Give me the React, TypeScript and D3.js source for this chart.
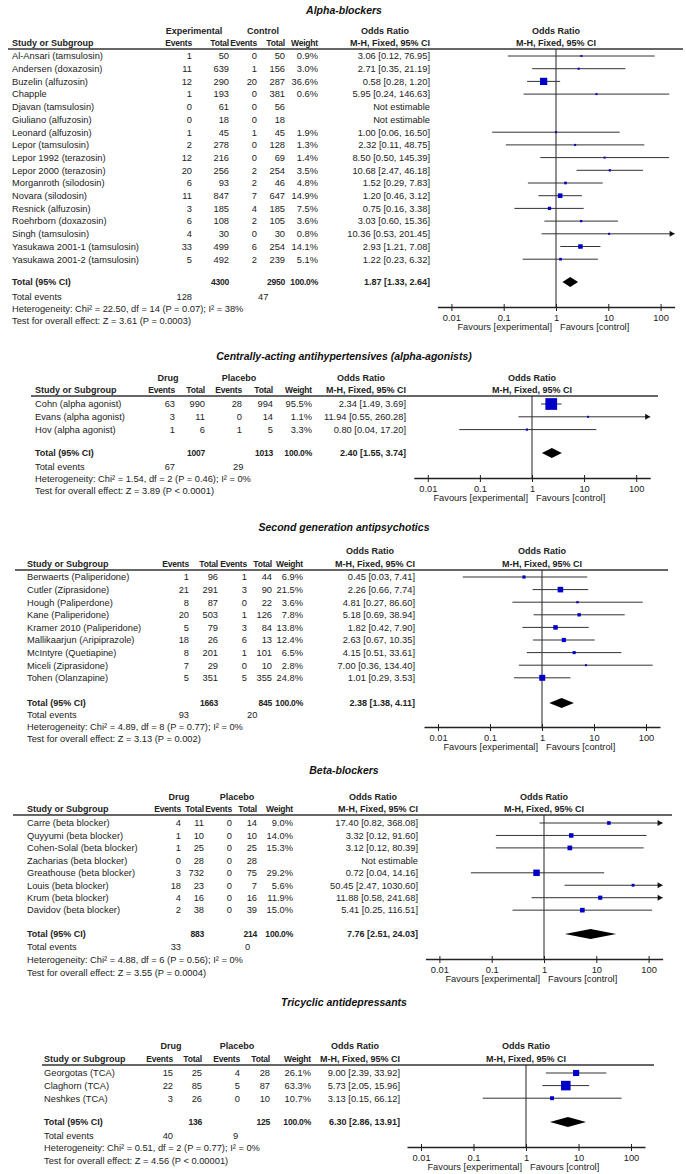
import React, { useEffect, useRef } from 'react';
import { select, scaleLog, axisBottom } from 'd3';

// study, exp events, exp total, ctl events, ctl total, weight %, OR, lower, upper
type Row = [string, number, number, number, number, number | null, number | null, number | null, number | null];

const FONT = '"Liberation Sans", Arial, sans-serif';
const INK = '#222';
const BLUE = '#0000c8';
const FS = 9.3;

const tickValues = [0.01, 0.1, 1, 10, 100];
const tickLabels = ['0.01', '0.1', '1', '10', '100'];

const alphaRows: Row[] = [
  ['Al-Ansari (tamsulosin)', 1, 50, 0, 50, 0.9, 3.06, 0.12, 76.95],
  ['Andersen (doxazosin)', 11, 639, 1, 156, 3.0, 2.71, 0.35, 21.19],
  ['Buzelin (alfuzosin)', 12, 290, 20, 287, 36.6, 0.58, 0.28, 1.2],
  ['Chapple', 1, 193, 0, 381, 0.6, 5.95, 0.24, 146.63],
  ['Djavan (tamsulosin)', 0, 61, 0, 56, null, null, null, null],
  ['Giuliano (alfuzosin)', 0, 18, 0, 18, null, null, null, null],
  ['Leonard (alfuzosin)', 1, 45, 1, 45, 1.9, 1.0, 0.06, 16.5],
  ['Lepor (tamsulosin)', 2, 278, 0, 128, 1.3, 2.32, 0.11, 48.75],
  ['Lepor 1992 (terazosin)', 12, 216, 0, 69, 1.4, 8.5, 0.5, 145.39],
  ['Lepor 2000 (terazosin)', 20, 256, 2, 254, 3.5, 10.68, 2.47, 46.18],
  ['Morganroth (silodosin)', 6, 93, 2, 46, 4.8, 1.52, 0.29, 7.83],
  ['Novara (silodosin)', 11, 847, 7, 647, 14.9, 1.2, 0.46, 3.12],
  ['Resnick (alfuzosin)', 3, 185, 4, 185, 7.5, 0.75, 0.16, 3.38],
  ['Roehrborn (doxazosin)', 6, 108, 2, 105, 3.6, 3.03, 0.6, 15.36],
  ['Singh (tamsulosin)', 4, 30, 0, 30, 0.8, 10.36, 0.53, 201.45],
  ['Yasukawa 2001-1 (tamsulosin)', 33, 499, 6, 254, 14.1, 2.93, 1.21, 7.08],
  ['Yasukawa 2001-2 (tamsulosin)', 5, 492, 2, 239, 5.1, 1.22, 0.23, 6.32],
];
const alphaTotal = [4300, 2950, 1.87, 1.33, 2.64];
const alphaEvents = [128, 47];
const alphaStats = [
  'Heterogeneity: Chi\u00b2 = 22.50, df = 14 (P = 0.07); I\u00b2 = 38%',
  'Test for overall effect: Z = 3.61 (P = 0.0003)',
];

const agonistRows: Row[] = [
  ['Cohn (alpha agonist)', 63, 990, 28, 994, 95.5, 2.34, 1.49, 3.69],
  ['Evans (alpha agonist)', 3, 11, 0, 14, 1.1, 11.94, 0.55, 260.28],
  ['Hov (alpha agonist)', 1, 6, 1, 5, 3.3, 0.8, 0.04, 17.2],
];
const agonistTotal = [1007, 1013, 2.4, 1.55, 3.74];
const agonistEvents = [67, 29];
const agonistStats = [
  'Heterogeneity: Chi\u00b2 = 1.54, df = 2 (P = 0.46); I\u00b2 = 0%',
  'Test for overall effect: Z = 3.89 (P < 0.0001)',
];

const antipsyRows: Row[] = [
  ['Berwaerts (Paliperidone)', 1, 96, 1, 44, 6.9, 0.45, 0.03, 7.41],
  ['Cutler (Ziprasidone)', 21, 291, 3, 90, 21.5, 2.26, 0.66, 7.74],
  ['Hough (Paliperdone)', 8, 87, 0, 22, 3.6, 4.81, 0.27, 86.6],
  ['Kane (Paliperidone)', 20, 503, 1, 126, 7.8, 5.18, 0.69, 38.94],
  ['Kramer 2010 (Paliperidone)', 5, 79, 3, 84, 13.8, 1.82, 0.42, 7.9],
  ['Mallikaarjun (Aripiprazole)', 18, 26, 6, 13, 12.4, 2.63, 0.67, 10.35],
  ['McIntyre (Quetiapine)', 8, 201, 1, 101, 6.5, 4.15, 0.51, 33.61],
  ['Miceli (Ziprasidone)', 7, 29, 0, 10, 2.8, 7.0, 0.36, 134.4],
  ['Tohen (Olanzapine)', 5, 351, 5, 355, 24.8, 1.01, 0.29, 3.53],
];
const antipsyTotal = [1663, 845, 2.38, 1.38, 4.11];
const antipsyEvents = [93, 20];
const antipsyStats = [
  'Heterogeneity: Chi\u00b2 = 4.89, df = 8 (P = 0.77); I\u00b2 = 0%',
  'Test for overall effect: Z = 3.13 (P = 0.002)',
];

const betaRows: Row[] = [
  ['Carre (beta blocker)', 4, 11, 0, 14, 9.0, 17.4, 0.82, 368.08],
  ['Quyyumi (beta blocker)', 1, 10, 0, 10, 14.0, 3.32, 0.12, 91.6],
  ['Cohen-Solal (beta blocker)', 1, 25, 0, 25, 15.3, 3.12, 0.12, 80.39],
  ['Zacharias (beta blocker)', 0, 28, 0, 28, null, null, null, null],
  ['Greathouse (beta blocker)', 3, 732, 0, 75, 29.2, 0.72, 0.04, 14.16],
  ['Louis (beta blocker)', 18, 23, 0, 7, 5.6, 50.45, 2.47, 1030.6],
  ['Krum (beta blocker)', 4, 16, 0, 16, 11.9, 11.88, 0.58, 241.68],
  ['Davidov (beta blocker)', 2, 38, 0, 39, 15.0, 5.41, 0.25, 116.51],
];
const betaTotal = [883, 214, 7.76, 2.51, 24.03];
const betaEvents = [33, 0];
const betaStats = [
  'Heterogeneity: Chi\u00b2 = 4.88, df = 6 (P = 0.56); I\u00b2 = 0%',
  'Test for overall effect: Z = 3.55 (P = 0.0004)',
];

const tcaRows: Row[] = [
  ['Georgotas (TCA)', 15, 25, 4, 28, 26.1, 9.0, 2.39, 33.92],
  ['Claghorn (TCA)', 22, 85, 5, 87, 63.3, 5.73, 2.05, 15.96],
  ['Neshkes (TCA)', 3, 26, 0, 10, 10.7, 3.13, 0.15, 66.12],
];
const tcaTotal = [136, 125, 6.3, 2.86, 13.91];
const tcaEvents = [40, 9];
const tcaStats = [
  'Heterogeneity: Chi\u00b2 = 0.51, df = 2 (P = 0.77); I\u00b2 = 0%',
  'Test for overall effect: Z = 4.56 (P < 0.00001)',
];

type Layout = {
  title: number; h1: number; h2: number; line: number; row0: number; step: number;
  total: number; te: number; het: number; test: number; axis: number;
  lineX: [number, number]; name: number; cols: number[]; groups: number[] | null;
  te2: number; x1: number; dec: number;
};

const panels = [
  {
    title: 'Alpha-blockers', groupNames: ['Experimental', 'Control'],
    rows: alphaRows, total: alphaTotal, events: alphaEvents, stats: alphaStats,
    lay: { title: 10, h1: 31, h2: 43, line: 49, row0: 56, step: 12.7, total: 282, te: 297, het: 309, test: 321, axis: 307,
      lineX: [8, 683], name: 12, cols: [192, 229, 257, 285, 318, 430], groups: [194, 263], te2: 258, x1: 556, dec: 52.3 } as Layout,
  },
  {
    title: 'Centrally-acting antihypertensives (alpha-agonists)', groupNames: ['Drug', 'Placebo'],
    rows: agonistRows, total: agonistTotal, events: agonistEvents, stats: agonistStats,
    lay: { title: 356, h1: 378, h2: 390, line: 396, row0: 404, step: 12.8, total: 453, te: 467, het: 479, test: 491, axis: 478,
      lineX: [31, 658], name: 35, cols: [175, 205, 242, 273, 312, 406], groups: [168, 239], te2: 233, x1: 532, dec: 52.1 } as Layout,
  },
  {
    title: 'Second generation antipsychotics', groupNames: null,
    rows: antipsyRows, total: antipsyTotal, events: antipsyEvents, stats: antipsyStats,
    lay: { title: 527, h1: 551, h2: 564, line: 570, row0: 577, step: 12.6, total: 703, te: 715, het: 727, test: 739, axis: 727,
      lineX: [15, 668], name: 27, cols: [189, 218, 247, 272, 303, 415], groups: null, te2: 247, x1: 542, dec: 52 } as Layout,
  },
  {
    title: 'Beta-blockers', groupNames: ['Drug', 'Placebo'],
    rows: betaRows, total: betaTotal, events: betaEvents, stats: betaStats,
    lay: { title: 770, h1: 797, h2: 809, line: 815, row0: 823, step: 12.45, total: 934, te: 947, het: 960, test: 973, axis: 959,
      lineX: [13, 672], name: 27, cols: [181, 204, 232, 257, 293, 418], groups: [179, 237], te2: 245, x1: 544, dec: 52.3 } as Layout,
  },
  {
    title: 'Tricyclic antidepressants', groupNames: ['Drug', 'Placebo'],
    rows: tcaRows, total: tcaTotal, events: tcaEvents, stats: tcaStats,
    lay: { title: 1002, h1: 1046, h2: 1059, line: 1065, row0: 1073, step: 12.6, total: 1122, te: 1136, het: 1148, test: 1161, axis: 1147,
      lineX: [42, 654], name: 44, cols: [173, 202, 240, 270, 311, 400], groups: [171, 237], te2: 233, x1: 526, dec: 52.5 } as Layout,
  },
];

const fmtOR = (o: number, l: number, h: number) => `${o.toFixed(2)} [${l.toFixed(2)}, ${h.toFixed(2)}]`;

function T({ x, y, anchor = 'start', bold = false, small = false, children }: any) {
  return (
    <text x={x} y={y + 3.3} textAnchor={anchor} fontWeight={bold ? 'bold' : 'normal'}
      fontSize={small ? 8.5 : bold ? 9 : FS} letterSpacing={small ? -0.2 : 0} fill={INK}>{children}</text>
  );
}

function Panel({ p }: any) {
  const lay: Layout = p.lay;
  const axisRef = useRef<SVGGElement | null>(null);
  const x = scaleLog().domain([0.01, 100]).range([lay.x1 - 2 * lay.dec, lay.x1 + 2 * lay.dec]);
  const ends = [x.range()[0] - 14, x.range()[1] + 14];
  const axisScale = scaleLog().domain([x.invert(ends[0]), x.invert(ends[1])]).range(ends);
  const [c1, c2, c3, c4, cw, cor] = lay.cols;
  const rowY = (i: number) => lay.row0 + i * lay.step;

  useEffect(() => {
    const g = select(axisRef.current);
    g.selectAll('*').remove();
    g.call(axisBottom(axisScale).tickValues(tickValues)
      .tickFormat((_d: any, i: number) => tickLabels[i]).tickSize(4).tickSizeOuter(0).tickPadding(3) as any);
    g.attr('font-size', FS).attr('font-family', FONT);
    g.select('.domain').attr('stroke', INK).attr('stroke-width', 1.3);
    g.selectAll('.tick line').attr('y1', -3).attr('y2', 4).attr('stroke', INK);
    g.selectAll('.tick text').attr('fill', INK);
  }, []);

  const [tn1, tn2, tor, tlo, thi] = p.total;
  return (
    <g>
      <text x={344} y={lay.title + 3.6} textAnchor="middle" fontSize={10.5} fontWeight="bold" fontStyle="italic" fill="#111">{p.title}</text>
      {p.groupNames && lay.groups && p.groupNames.map((g: string, i: number) => (
        <T key={g} x={lay.groups![i]} y={lay.h1} anchor="middle" bold>{g}</T>
      ))}
      <T x={cor - 45} y={lay.h1} anchor="middle" bold>Odds Ratio</T>
      <T x={lay.x1} y={lay.h1} anchor="middle" bold>Odds Ratio</T>
      <T x={lay.name} y={lay.h2} bold>Study or Subgroup</T>
      <T x={c1} y={lay.h2} anchor="end" bold small>Events</T>
      <T x={c2} y={lay.h2} anchor="end" bold small>Total</T>
      <T x={c3} y={lay.h2} anchor="end" bold small>Events</T>
      <T x={c4} y={lay.h2} anchor="end" bold small>Total</T>
      <T x={cw} y={lay.h2} anchor="end" bold small>Weight</T>
      <T x={cor} y={lay.h2} anchor="end" bold>M-H, Fixed, 95% CI</T>
      <T x={lay.x1} y={lay.h2} anchor="middle" bold>M-H, Fixed, 95% CI</T>
      <line x1={lay.lineX[0]} x2={lay.lineX[1]} y1={lay.line} y2={lay.line} stroke="#333" strokeWidth={1.5} />
      <line x1={lay.x1} x2={lay.x1} y1={lay.line} y2={lay.axis} stroke={INK} strokeWidth={1} />

      {p.rows.map((r: Row, i: number) => {
        const y = rowY(i);
        const [name, e1, n1, e2, n2, w, or, lo, hi] = r;
        let marks = null;
        if (or !== null && lo !== null && hi !== null && w !== null) {
          const xl = Math.max(ends[0], x(lo));
          const xh = Math.min(ends[1], x(hi));
          const s = Math.max(2, 1.2 * Math.sqrt(w));
          marks = (
            <g>
              <line x1={xl} x2={xh} y1={y} y2={y} stroke="#333" strokeWidth={1} />
              {x(hi) > ends[1] && <path d={`M${ends[1] - 5},${y - 3}L${ends[1]},${y}L${ends[1] - 5},${y + 3}Z`} fill="#111" />}
              {x(lo) < ends[0] && <path d={`M${ends[0] + 5},${y - 3}L${ends[0]},${y}L${ends[0] + 5},${y + 3}Z`} fill="#111" />}
              <rect x={x(or) - s / 2} y={y - s / 2} width={s} height={s} fill={BLUE} />
            </g>
          );
        }
        return (
          <g key={name}>
            <T x={lay.name} y={y}>{name}</T>
            <T x={c1} y={y} anchor="end">{e1}</T>
            <T x={c2} y={y} anchor="end">{n1}</T>
            <T x={c3} y={y} anchor="end">{e2}</T>
            <T x={c4} y={y} anchor="end">{n2}</T>
            {w !== null && <T x={cw} y={y} anchor="end">{w.toFixed(1)}%</T>}
            <T x={cor} y={y} anchor="end">{or !== null ? fmtOR(or, lo!, hi!) : 'Not estimable'}</T>
            {marks}
          </g>
        );
      })}

      <T x={lay.name} y={lay.total} bold>Total (95% CI)</T>
      <T x={c2} y={lay.total} anchor="end" bold small>{tn1}</T>
      <T x={c4} y={lay.total} anchor="end" bold small>{tn2}</T>
      <T x={cw} y={lay.total} anchor="end" bold small>100.0%</T>
      <T x={cor} y={lay.total} anchor="end" bold>{fmtOR(tor, tlo, thi)}</T>
      <path d={`M${x(tlo)},${lay.total}L${x(tor)},${lay.total - 5}L${x(thi)},${lay.total}L${x(tor)},${lay.total + 5}Z`} fill="#000" />

      <T x={lay.name} y={lay.te}>Total events</T>
      <T x={c1} y={lay.te} anchor="end">{p.events[0]}</T>
      <T x={lay.te2} y={lay.te}>{p.events[1]}</T>
      <T x={lay.name} y={lay.het}>{p.stats[0]}</T>
      <T x={lay.name} y={lay.test}>{p.stats[1]}</T>

      <g ref={axisRef} transform={`translate(0,${lay.axis})`} />
      <T x={lay.x1 - 4} y={lay.axis + 20} anchor="end">Favours [experimental]</T>
      <T x={lay.x1 + 4} y={lay.axis + 20}>Favours [control]</T>
    </g>
  );
}

export default function App() {
  return (
    <svg width={686} height={1174} style={{ position: 'absolute', left: 0, top: 0, background: '#fff' }}
      fontFamily={FONT}>
      <rect width={686} height={1174} fill="#fff" />
      {panels.map((p) => <Panel key={p.title} p={p} />)}
    </svg>
  );
}
